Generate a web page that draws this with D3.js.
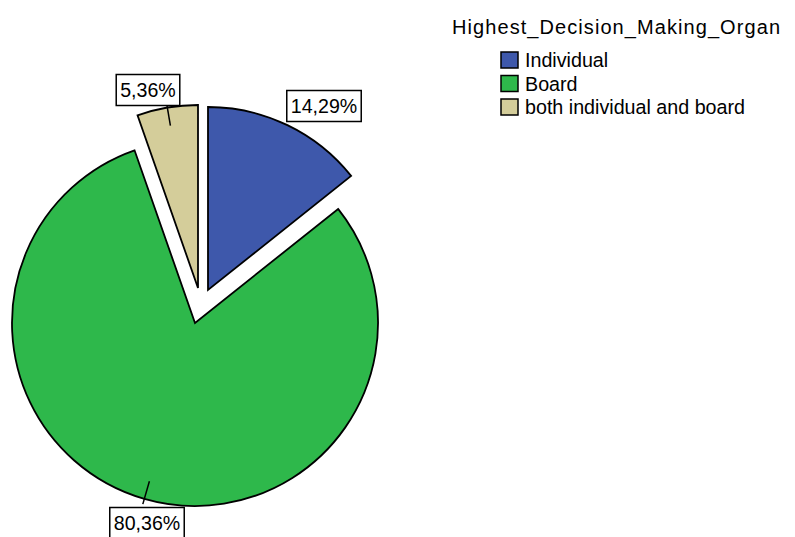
<!DOCTYPE html>
<html>
<head>
<meta charset="utf-8">
<script src="https://cdn.jsdelivr.net/npm/d3@7"></script>
<style>
  body { margin: 0; background: #fff; }
  text { font-family: "Liberation Sans", Arial, sans-serif; }
</style>
</head>
<body>
<div id="chart"></div>
<script>
// data
const categories = ["Individual", "Board", "both individual and board"];
const percents = [14.29, 80.36, 5.36];
const legendTitle = "Highest_Decision_Making_Organ";

// styles / layout
const colors = ["#3e58ab", "#2eb84b", "#d4cd9a"];
const width = 795, height = 537;
const center = [195, 323], radius = 183;
// exploded slices shift (px)
const explode = [[13, -33], [0, 0], [3, -35]];
// label box centres
const labelPos = [[324, 106], [147, 523], [148, 90]];
const showLeader = [false, true, true];

const svg = d3.select("#chart").append("svg")
  .attr("width", width)
  .attr("height", height);

const pie = d3.pie().sort(null).value(d => d);
const arcs = pie(percents);
const arc = d3.arc().innerRadius(0).outerRadius(radius);

const fmt = v => d3.format(".2f")(v).replace(".", ",") + "%";

const slices = svg.selectAll("g.slice")
  .data(arcs)
  .join("g")
  .attr("class", "slice")
  .attr("transform", (d, i) => `translate(${center[0] + explode[i][0]},${center[1] + explode[i][1]})`);

slices.append("path")
  .attr("d", arc)
  .attr("fill", (d, i) => colors[i])
  .attr("stroke", "#000")
  .attr("stroke-width", 1.8)
  .attr("stroke-linejoin", "miter");

// leader lines from inside the slice to just past the rim
slices.filter((d, i) => showLeader[i])
  .append("line")
  .attr("x1", d => Math.sin((d.startAngle + d.endAngle) / 2) * radius * 0.9)
  .attr("y1", d => -Math.cos((d.startAngle + d.endAngle) / 2) * radius * 0.9)
  .attr("x2", d => Math.sin((d.startAngle + d.endAngle) / 2) * radius * 1.03)
  .attr("y2", d => -Math.cos((d.startAngle + d.endAngle) / 2) * radius * 1.03)
  .attr("stroke", "#000")
  .attr("stroke-width", 1.5);

// value labels in boxes
const labels = svg.selectAll("g.label")
  .data(arcs)
  .join("g")
  .attr("class", "label")
  .attr("transform", (d, i) => `translate(${labelPos[i][0]},${labelPos[i][1]})`);

labels.append("text")
  .attr("text-anchor", "middle")
  .attr("dy", "0.36em")
  .attr("font-size", 19.6)
  .text(d => fmt(d.data));

labels.each(function() {
  const g = d3.select(this);
  const bb = g.select("text").node().getBBox();
  g.insert("rect", "text")
    .attr("x", bb.x - 4)
    .attr("y", -15.5)
    .attr("width", bb.width + 8)
    .attr("height", 31)
    .attr("fill", "#fff")
    .attr("stroke", "#000")
    .attr("stroke-width", 1.5);
});

// legend
svg.append("text")
  .attr("x", 452)
  .attr("y", 34)
  .attr("font-size", 20)
  .attr("textLength", 328)
  .attr("lengthAdjust", "spacing")
  .text(legendTitle);

const leg = svg.selectAll("g.leg")
  .data(categories)
  .join("g")
  .attr("class", "leg")
  .attr("transform", (d, i) => `translate(501,${52 + i * 23.5})`);

leg.append("rect")
  .attr("width", 17)
  .attr("height", 16)
  .attr("fill", (d, i) => colors[i])
  .attr("stroke", "#000")
  .attr("stroke-width", 1.5);

leg.append("text")
  .attr("x", 24)
  .attr("y", 15)
  .attr("font-size", 19.7)
  .text(d => d);
</script>
</body>
</html>
